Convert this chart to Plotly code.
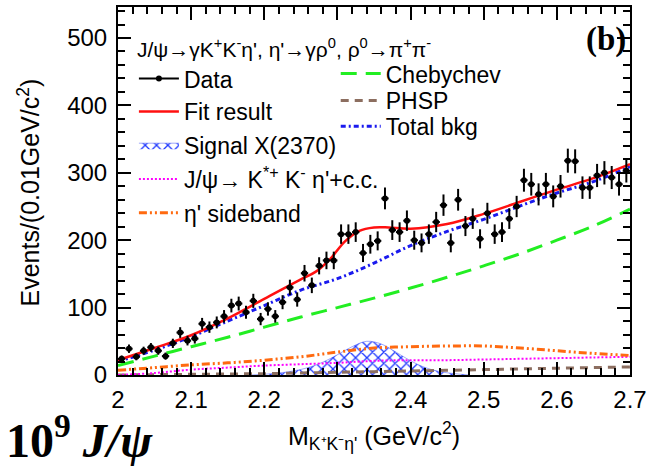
import numpy as np
import plotly.graph_objects as go

# ---------------- data ----------------
bin_centers = [round(2.005 + 0.01 * i, 3) for i in range(70)]
counts = [24, 39, 27, 36, 41, 36, 28, 47, 63, 51,
          54, 76, 71, 78, 87, 103, 106, 93, 110, 83,
          98, 87, 108, 130, 112, 151, 133, 162, 170, 170,
          209, 209, 212, 181, 194, 199, 262, 215, 212, 229,
          200, 196, 209, 227, 252, 196, 260, 221, 232, 202,
          240, 209, 212, 232, 250, 289, 283, 268, 283, 265,
          280, 318, 317, 278, 278, 296, 300, 293, 283, 303]

fit_x = [2.00, 2.05, 2.10, 2.15, 2.20, 2.25, 2.27, 2.29, 2.31, 2.33, 2.35, 2.37, 2.40, 2.45, 2.50, 2.55, 2.60, 2.65, 2.70]
fit_y = [22, 40, 59, 84, 113, 142, 153, 172, 198, 214, 219, 219, 217, 224, 239, 257, 275, 292, 313]

curve_x = [2.00, 2.05, 2.10, 2.15, 2.20, 2.25, 2.30, 2.35, 2.40, 2.45, 2.50, 2.55, 2.60, 2.65, 2.70]
totbkg_y = [20, 37, 57, 80, 103, 126, 143, 166, 192, 213, 231, 251, 270, 287, 309]
cheby_y = [14, 28, 42, 56, 71, 86, 100, 114, 129, 145, 162, 180, 200, 221, 246]
sideband_y = [7, 11, 15, 18, 22, 27, 34, 40, 42, 43, 43, 40, 36, 32, 29]
kstar_y = [0, 3, 8, 11, 14, 16, 18, 21, 22, 22, 23, 24, 25, 26, 27]
phsp_y = [0, 0.5, 1, 1.5, 2, 3, 4, 5, 6, 7, 8, 9, 10, 11, 12]

sig_x = [2.18, 2.20, 2.22, 2.24, 2.26, 2.28, 2.30, 2.32, 2.34, 2.36, 2.38, 2.40, 2.42, 2.44, 2.46, 2.48]
sig_y = [0, 1, 3, 6, 11, 19, 30, 42, 50, 46, 34, 21, 11, 5, 2, 0]

x_ticks = [2.0, 2.1, 2.2, 2.3, 2.4, 2.5, 2.6, 2.7]
x_tick_labels = ["2", "2.1", "2.2", "2.3", "2.4", "2.5", "2.6", "2.7"]
y_ticks = [0, 100, 200, 300, 400, 500]
y_tick_labels = ["0", "100", "200", "300", "400", "500"]
x_range = [2.0, 2.7]
y_range = [0, 546]

# ---------------- figure ----------------
W, H = 652, 466
ML, MR, MT, MB = 118, 19, 5, 91
PW, PH = W - ML - MR, H - MT - MB


def px(xp):
    return (xp - ML) / PW


def py(yp):
    return 1 - (yp - MT) / PH


FONT = "Liberation Sans, Arial, sans-serif"
SERIF = "Liberation Serif, Times New Roman, serif"
fig = go.Figure()

# legend slots: (x of legend box, y centre) in pixels
LEG = {
    "legend": (134, 77), "legend2": (134, 110), "legend3": (134, 144),
    "legend4": (134, 178), "legend5": (134, 212),
    "legend6": (337, 72), "legend7": (337, 99), "legend8": (337, 125),
}

# signal (hatched)
fig.add_trace(go.Scatter(
    x=sig_x, y=sig_y, mode="lines", line=dict(color="rgba(30,50,240,0.7)", width=0.6, shape="spline"),
    fill="tozeroy", fillcolor="rgba(0,0,0,0)",
    fillpattern=dict(shape="x", fgcolor="#1f38ff", fgopacity=1, bgcolor="rgba(0,0,0,0)", size=8, solidity=0.3),
    name="Signal X(2370)", legend="legend3"))

fig.add_trace(go.Scatter(x=curve_x, y=phsp_y, mode="lines", name="PHSP",
                         line=dict(color="#8c6e60", width=3, dash="8px,6px", shape="spline"),
                         legend="legend7"))
fig.add_trace(go.Scatter(x=curve_x, y=kstar_y, mode="lines",
                         name="J/ψ→ K<sup>*+</sup> K<sup>-</sup> η'+c.c.",
                         line=dict(color="#ff00ff", width=2, dash="2px,2px", shape="spline"),
                         legend="legend4"))
fig.add_trace(go.Scatter(x=curve_x, y=sideband_y, mode="lines", name="η' sideband",
                         line=dict(color="#ff6a10", width=3, dash="8px,3px,2px,3px,2px,3px", shape="spline"),
                         legend="legend5"))
fig.add_trace(go.Scatter(x=curve_x, y=cheby_y, mode="lines", name="Chebychev",
                         line=dict(color="#22ee22", width=3, dash="16px,9px", shape="spline"),
                         legend="legend6"))
fig.add_trace(go.Scatter(x=curve_x, y=totbkg_y, mode="lines", name="Total bkg",
                         line=dict(color="#1a1aee", width=3, dash="5px,3px,2px,3px", shape="spline"),
                         legend="legend8"))
fig.add_trace(go.Scatter(x=fit_x, y=fit_y, mode="lines", name="Fit result",
                         line=dict(color="#ff1010", width=2.5, shape="spline"),
                         legend="legend2"))

# data
errs = np.sqrt(np.array(counts, dtype=float))
fig.add_trace(go.Scatter(
    x=bin_centers, y=counts, mode="markers", showlegend=False,
    marker=dict(color="black", size=6),
    error_y=dict(type="data", array=errs, color="black", thickness=2, width=0),
    error_x=dict(type="constant", value=0.005, color="black", thickness=2, width=0)))
# legend entry for data
fig.add_trace(go.Scatter(x=[None], y=[None], mode="lines+markers", name="Data",
                         line=dict(color="black", width=2), marker=dict(color="black", size=6),
                         legend="legend"))

tick_common = dict(showline=True, linecolor="black", linewidth=2,
                   ticks="inside", tickcolor="black", tickwidth=1.5, ticklen=13,
                   showgrid=False, zeroline=False,
                   tickfont=dict(family=FONT, size=24, color="black"))
tick_nofont = {k: v for k, v in tick_common.items() if k != "tickfont"}

fig.update_layout(
    xaxis=dict(range=x_range, tickvals=x_ticks, ticktext=x_tick_labels,
               minor=dict(ticks="inside", dtick=0.02, ticklen=7, tickcolor="black", tickwidth=1.5),
               ticklabelstandoff=2, ticklabeloverflow="allow", mirror=True, **tick_common),
    yaxis=dict(range=y_range, tickvals=y_ticks, ticktext=y_tick_labels,
               minor=dict(ticks="inside", dtick=20, ticklen=7, tickcolor="black", tickwidth=1.5),
               ticklabelstandoff=4, mirror=True, **tick_common),
    xaxis2=dict(range=x_range, overlaying="x", side="top", tickvals=x_ticks, showticklabels=False,
                minor=dict(ticks="inside", dtick=0.02, ticklen=7, tickcolor="black", tickwidth=1.5),
                **tick_nofont),
    yaxis2=dict(range=y_range, overlaying="y", side="right", tickvals=y_ticks, showticklabels=False,
                minor=dict(ticks="inside", dtick=20, ticklen=7, tickcolor="black", tickwidth=1.5),
                **tick_nofont),
)
# invisible trace to activate mirrored axes
fig.add_trace(go.Scatter(x=[None], y=[None], xaxis="x2", yaxis="y2", showlegend=False, hoverinfo="skip"))

leg_font = dict(family=FONT, size=23, color="black")
legends = {}
for name, (lx, ly) in LEG.items():
    legends[name] = dict(x=px(lx), y=py(ly), xanchor="left", yanchor="middle", font=leg_font,
                         bgcolor="rgba(0,0,0,0)", borderwidth=0, itemwidth=40)
fig.update_layout(**legends)

fig.update_layout(
    width=W, height=H,
    margin=dict(l=ML, r=MR, t=MT, b=MB),
    paper_bgcolor="white", plot_bgcolor="white",
    annotations=[
        dict(text="J/ψ→γK<sup>+</sup>K<sup>-</sup>η', η'→γρ<sup>0</sup>, ρ<sup>0</sup>→π<sup>+</sup>π<sup>-</sup>",
             x=px(135), y=py(46), xref="paper", yref="paper", xanchor="left", yanchor="middle",
             showarrow=False, font=dict(family=FONT, size=21, color="black")),
        dict(text="<b>(b)</b>", x=px(631), y=py(38), xref="paper", yref="paper",
             xanchor="right", yanchor="middle", showarrow=False,
             font=dict(family=SERIF, size=33, color="black")),
        dict(text="Events/(0.01GeV/c<sup>2</sup>)", x=px(28), y=py(192), xref="paper", yref="paper",
             xanchor="center", yanchor="middle", textangle=-90, showarrow=False,
             font=dict(family=FONT, size=25, color="black")),
        dict(text="M<sub>K⁺K⁻η'</sub> (GeV/c<sup>2</sup>)", x=px(375), y=py(436), xref="paper", yref="paper",
             xanchor="center", yanchor="middle", showarrow=False,
             font=dict(family=FONT, size=25, color="black")),
        dict(text="<b>10<sup>9</sup> <i>J/ψ</i></b>", x=px(3), y=py(437), xref="paper", yref="paper",
             xanchor="left", yanchor="middle", showarrow=False,
             font=dict(family=SERIF, size=48, color="black")),
    ],
)

fig.write_html("out.html", config={"displayModeBar": False},
               post_script="document.body.style.margin='0';document.body.style.padding='0';")
